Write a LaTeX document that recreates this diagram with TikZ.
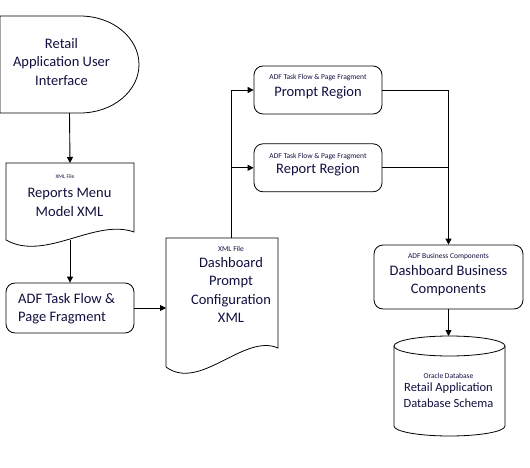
\documentclass[tikz,border=0pt]{standalone}
\usepackage{fontspec}
\setmainfont{Carlito}
\usetikzlibrary{arrows.meta, positioning, calc}
\definecolor{inkblue}{RGB}{16, 16, 64}
\newcommand{\bigtext}{\fontsize{14.5}{18.5}\selectfont}
\newcommand{\tagtext}{\fontsize{7.5}{9}\selectfont}

\begin{document}
\begin{tikzpicture}[x=1pt, y=-1pt,
            shapebox/.style={inner sep=0pt, outer sep=0pt},
            box/.style={draw, line width=0.8pt, rounded corners=9pt, inner sep=0pt},
            txt/.style={text=inkblue, align=center, font=\bigtext, inner sep=0pt},
            tag/.style={text=inkblue, font=\tagtext, inner sep=0pt},
            outline/.style={draw, line width=0.8pt},
            link/.style={line width=0.9pt},
            arrow/.style={link, -{Triangle[length=6pt, width=6pt]}}
        ]
            \useasboundingbox (0,0) rectangle (530,468);

            % user interface
            \node[shapebox, minimum width=139pt, minimum height=97pt] (ui) at (69.5,64.5) {};
            \draw[outline] (ui.north west) -- ++(80,0) arc[start angle=-90, end angle=90, x radius=59, y radius=48.5] -- (ui.south west) -- cycle;
            \node[txt] (uitext) at (61.5,62) {Retail\\Application User\\Interface};

            % reports menu
            \node[shapebox, minimum width=128pt, minimum height=77pt] (menu) at (70,201.5) {};
            \draw[outline] (menu.south west) -- (menu.north west) -- (menu.north east) -- ($(menu.south east)+(0,-8)$) .. controls ($(menu.south east)+(-39,-22)$) and ($(menu.south west)+(39,22)$) .. (menu.south west);
            \node[tag, font=\fontsize{5.5}{6}\selectfont] (menutag) at (65,177) {XML File};
            \node[txt] (menutext) at (69.5,202.5) {Reports Menu\\Model XML};

            % task flow
            \node[box, minimum width=128pt, minimum height=50pt] (adf) at (70,308) {};
            \node[txt, align=left, anchor=west] (adftext) at (18,308.5) {ADF Task Flow \&\\Page Fragment};

            % dashboard prompt
            \node[shapebox, minimum width=112pt, minimum height=129pt] (dash) at (222,302.5) {};
            \draw[outline] (dash.south west) -- (dash.north west) -- (dash.north east) -- ($(dash.south east)+(0,-19)$) .. controls ($(dash.south east)+(-34,-34)$) and ($(dash.south west)+(34,25)$) .. (dash.south west);
            \node[tag] (dashtag) at (231,249) {XML File};
            \node[txt] (dashtext) at (231,290) {Dashboard\\Prompt\\Configuration\\XML};

            % regions
            \node[box, minimum width=128pt, minimum height=48pt] (prompt) at (318,90) {};
            \node[tag] (prompttag) at ($(prompt.center)+(0,-12)$) {ADF Task Flow \& Page Fragment};
            \node[txt] (prompttext) at ($(prompt.center)+(0,2.5)$) {Prompt Region};
            \node[box, minimum width=128pt, minimum height=48pt, below=29pt of prompt] (report) {};
            \node[tag] (reporttag) at ($(report.center)+(0,-11.5)$) {ADF Task Flow \& Page Fragment};
            \node[txt] (reporttext) at ($(report.center)+(0,2)$) {Report Region};

            % business components
            \node[box, minimum width=149pt, minimum height=64pt] (bc) at (448.5,277) {};
            \node[tag] (bctag) at ($(bc.center)+(0,-20)$) {ADF Business Components};
            \node[txt] (bctext) at ($(bc.center)+(0,3.5)$) {Dashboard Business\\Components};

            % database
            \node[shapebox, minimum width=111pt, minimum height=100pt] (db) at (449.5,386) {};
            \draw[outline] ($(db.north west)+(0,10)$) -- ($(db.south west)+(0,-10)$) arc[start angle=180, end angle=0, x radius=55.5, y radius=10] -- ($(db.north east)+(0,10)$);
            \draw[outline] ($(db.north)+(0,10)$) ellipse[x radius=55.5, y radius=10];
            \node[tag] (dbtag) at (448.5,376) {Oracle Database};
            \node[txt, font=\fontsize{12.5}{16}\selectfont] (dbtext) at (448.5,395) {Retail Application\\Database Schema};

            \draw[arrow] (ui.south) -- (menu.north);
            \draw[arrow] (menu.south) -- (adf.north);
            \draw[arrow] (adf.east) -- (adf.east -| dash.west);
            \draw[arrow] (dashtext |- dash.north) |- (prompt.west);
            \draw[arrow] (dashtext |- report.west) -- (report.west);
            \draw[arrow] (prompt.east) -| (bc.north);
            \draw[link] (report.east) -- (report.east -| bc.north);
            \draw[arrow] (bc.south) -- (bc.south |- db.north);
        \end{tikzpicture}
\end{document}
